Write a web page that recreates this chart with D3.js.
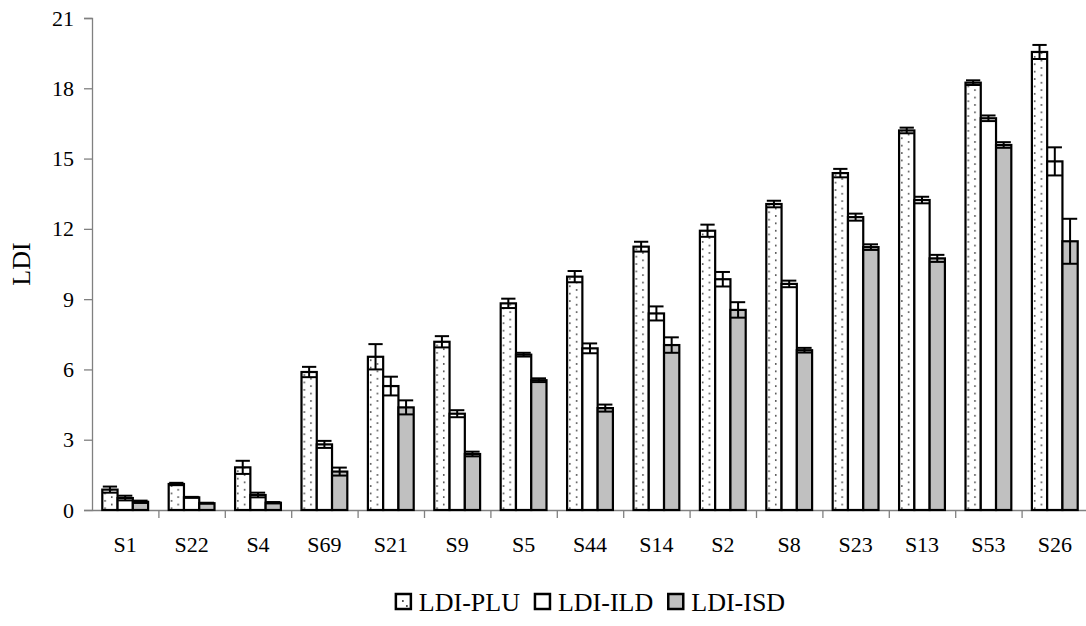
<!DOCTYPE html>
<html>
<head>
<meta charset="utf-8">
<script src="https://cdn.jsdelivr.net/npm/d3@7"></script>
<style>
    body { margin: 0; background: #fff; }
    svg text { font-family: "Times New Roman", "Liberation Serif", Tinos, Times, serif !important; fill: #000; }
    .axis path, .axis line { stroke: #808080; stroke-width: 1.3; }
</style>
</head>
<body>
<div id="chart"></div>
<script>
// categories and series
let sites = ["S1", "S22", "S4", "S69", "S21", "S9", "S5", "S44", "S14", "S2", "S8", "S23", "S13", "S53", "S26"];
let seriesNames = ["LDI-PLU", "LDI-ILD", "LDI-ISD"];

let pluValues = [0.87, 1.11, 1.82, 5.89, 6.54, 7.18, 8.82, 9.96, 11.24, 11.92, 13.06, 14.38, 16.2, 18.24, 19.55];
let pluErrors = [0.13, 0.05, 0.28, 0.22, 0.54, 0.24, 0.2, 0.24, 0.21, 0.26, 0.14, 0.18, 0.12, 0.1, 0.3];

let ildValues = [0.51, 0.54, 0.64, 2.8, 5.29, 4.11, 6.63, 6.9, 8.39, 9.85, 9.65, 12.5, 13.23, 16.72, 14.88];
let ildErrors = [0.1, 0.02, 0.1, 0.15, 0.4, 0.15, 0.08, 0.21, 0.3, 0.31, 0.14, 0.15, 0.14, 0.12, 0.6];

let isdValues = [0.35, 0.29, 0.31, 1.64, 4.38, 2.39, 5.54, 4.35, 7.04, 8.54, 6.82, 11.22, 10.74, 15.58, 11.47];
let isdErrors = [0.05, 0.02, 0.03, 0.17, 0.3, 0.1, 0.08, 0.15, 0.33, 0.33, 0.1, 0.12, 0.15, 0.12, 0.96];

let yTicks = [0, 3, 6, 9, 12, 15, 18, 21];

class LdiChart {

    constructor(parentElement) {
        this.parentElement = parentElement;
        this.values = [pluValues, ildValues, isdValues];
        this.errors = [pluErrors, ildErrors, isdErrors];
        this.fills = ["dots", "#ffffff", "#c0c0c0"];
        this.initVis();
    }

    initVis() {
        let vis = this;

        vis.margin = {top: 18, right: -2, bottom: 116, left: 92};
        vis.totalWidth = 1086;
        vis.totalHeight = 626;
        vis.width = vis.totalWidth - vis.margin.left - vis.margin.right;
        vis.height = vis.totalHeight - vis.margin.top - vis.margin.bottom;

        vis.root = d3.select("#" + vis.parentElement).append("svg")
            .attr("width", vis.totalWidth)
            .attr("height", vis.totalHeight);

        vis.defs = vis.root.append("defs");

        vis.svg = vis.root.append("g")
            .attr("transform", `translate(${vis.margin.left}, ${vis.margin.top})`);

        // Scales
        vis.x0 = d3.scaleBand()
            .domain(sites)
            .range([0, vis.width])
            .paddingInner(0.31)
            .paddingOuter(0.155);

        vis.x1 = d3.scaleBand()
            .domain(seriesNames)
            .range([0, vis.x0.bandwidth()]);

        vis.xIndex = d3.scaleLinear()
            .domain([0, sites.length])
            .range([0, vis.width]);

        vis.y = d3.scaleLinear()
            .domain([0, 21])
            .range([vis.height, 0]);

        // Axes
        vis.svg.append("g")
            .attr("class", "axis y-axis")
            .call(d3.axisLeft(vis.y).tickValues(yTicks).tickSize(8).tickPadding(10))
            .call(g => g.selectAll("text").style("font-size", "22px"));

        vis.svg.append("g")
            .attr("class", "axis x-axis")
            .attr("transform", `translate(0, ${vis.height})`)
            .call(d3.axisBottom(vis.xIndex).tickValues(d3.range(1, sites.length + 1)).tickSize(8).tickSizeOuter(0).tickFormat(""));

        vis.svg.append("g")
            .attr("transform", `translate(0, ${vis.height})`)
            .call(d3.axisBottom(vis.x0).tickSize(0).tickPadding(26))
            .call(g => g.select(".domain").remove())
            .call(g => g.selectAll("text").style("font-size", "22px"));

        vis.svg.append("text")
            .attr("transform", `translate(${21 - vis.margin.left}, ${vis.height / 2}) rotate(-90)`)
            .attr("text-anchor", "middle")
            .attr("dy", "0.35em")
            .style("font-size", "26px")
            .text("LDI");

        vis.wrangleData();
    }

    wrangleData() {
        let vis = this;

        vis.bars = [];
        sites.forEach((site, i) => {
            seriesNames.forEach((name, k) => {
                vis.bars.push({
                    site: site,
                    series: name,
                    k: k,
                    value: vis.values[k][i],
                    err: vis.errors[k][i]
                });
            });
        });

        vis.updateVis();
    }

    dotPattern(id, x0) {
        let vis = this;
        let p = vis.defs.append("pattern")
            .attr("id", id)
            .attr("patternUnits", "userSpaceOnUse")
            .attr("x", x0)
            .attr("y", 0)
            .attr("width", 13.4)
            .attr("height", 7.4);
        p.append("rect").attr("width", 13.4).attr("height", 7.4).attr("fill", "#fff");
        p.append("circle").attr("cx", 4.6).attr("cy", 1.8).attr("r", 0.9).attr("fill", "#444");
        p.append("circle").attr("cx", 11.3).attr("cy", 5.5).attr("r", 0.9).attr("fill", "#444");
        return `url(#${id})`;
    }

    updateVis() {
        let vis = this;
        let bw = vis.x1.bandwidth();
        let capW = bw - 1;

        vis.svg.selectAll(".bar")
            .data(vis.bars)
            .enter()
            .append("rect")
            .attr("class", "bar")
            .attr("x", d => vis.x0(d.site) + vis.x1(d.series))
            .attr("y", d => vis.y(d.value))
            .attr("width", bw)
            .attr("height", d => vis.height - vis.y(d.value))
            .attr("fill", (d, i) => d.k === 0
                ? vis.dotPattern(`dots${i}`, vis.margin.left + vis.x0(d.site) + vis.x1(d.series))
                : vis.fills[d.k])
            .attr("stroke", "#000")
            .attr("stroke-width", 2.2);

        // error bars
        let eb = vis.svg.selectAll(".err")
            .data(vis.bars)
            .enter()
            .append("g")
            .attr("class", "err")
            .attr("transform", d => `translate(${vis.x0(d.site) + vis.x1(d.series) + bw / 2}, 0)`)
            .attr("stroke", "#000")
            .attr("stroke-width", 2);

        eb.append("line")
            .attr("y1", d => vis.y(d.value + d.err))
            .attr("y2", d => vis.y(d.value - d.err));
        eb.append("line")
            .attr("x1", -capW / 2).attr("x2", capW / 2)
            .attr("y1", d => vis.y(d.value + d.err))
            .attr("y2", d => vis.y(d.value + d.err));
        eb.append("line")
            .attr("x1", -capW / 2).attr("x2", capW / 2)
            .attr("y1", d => vis.y(d.value - d.err))
            .attr("y2", d => vis.y(d.value - d.err));

        // legend, centred on the plot area
        vis.legend = vis.root.append("g");
        let items = vis.legend.selectAll(".item")
            .data(seriesNames)
            .enter()
            .append("g")
            .attr("class", "item");

        items.append("text")
            .attr("x", 24)
            .attr("y", 0)
            .attr("dy", "0.35em")
            .style("font-size", "26px")
            .text(d => d);

        let offset = 0;
        let gap = 14;
        items.each(function (d, i) {
            let w = this.querySelector("text").getComputedTextLength() + 24;
            d3.select(this).attr("transform", `translate(${offset}, 0)`);
            offset += w + gap;
        });
        let legendW = offset - gap;

        items.append("rect")
            .attr("x", 1)
            .attr("y", -8)
            .attr("width", 15)
            .attr("height", 15)
            .attr("stroke", "#000")
            .attr("stroke-width", 2.5)
            .attr("fill", (d, i) => i === 0 ? "#fff" : vis.fills[i]);

        items.filter((d, i) => i === 0)
            .append("circle")
            .attr("cx", 8).attr("cy", -1).attr("r", 1)
            .attr("fill", "#333");
        items.filter((d, i) => i === 0)
            .append("circle")
            .attr("cx", 12).attr("cy", 4).attr("r", 1)
            .attr("fill", "#333");

        vis.legend.attr("transform", `translate(${vis.margin.left + vis.width / 2 - legendW / 2}, 602)`);
    }
}

new LdiChart("chart");
</script>
</body>
</html>
